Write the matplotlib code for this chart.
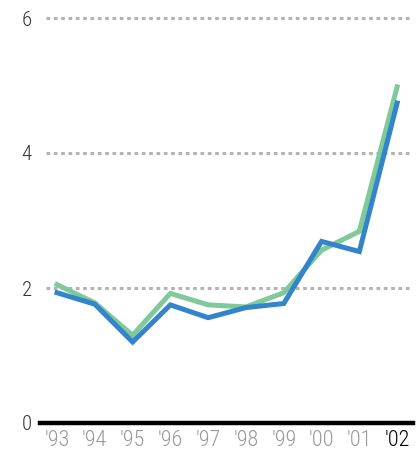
import matplotlib.pyplot as plt

years = ["'93", "'94", "'95", "'96", "'97", "'98", "'99", "'00", "'01", "'02"]
green_vals = [2.05, 1.78, 1.30, 1.92, 1.75, 1.72, 1.93, 2.56, 2.84, 4.98]
blue_vals = [1.93, 1.76, 1.20, 1.75, 1.56, 1.71, 1.77, 2.69, 2.54, 4.74]
y_ticks = [0, 2, 4, 6]

plt.rcParams['font.family'] = ['Roboto Condensed', 'Liberation Sans Narrow', 'Roboto', 'DejaVu Sans']

fig = plt.figure(figsize=(4.18, 4.62), dpi=100)
ax = fig.add_axes([40 / 418, 39 / 462, 373 / 418, 405 / 462])

x = list(range(len(years)))

# dotted gridlines
for t in y_ticks[1:]:
    ax.hlines(t, -0.29, 9.33, colors="#b3b3b3", linestyles=(0, (1.2, 1.2)),
              linewidth=2.2, clip_on=False, zorder=1)

ax.plot(x, green_vals, color="#80c99b", linewidth=3.6, solid_joinstyle="miter", zorder=3)
ax.plot(x, blue_vals, color="#3385cb", linewidth=3.6, solid_joinstyle="miter", zorder=4)

# baseline
ax.axhline(0, color="black", linewidth=3.2, zorder=5, clip_on=False)

ax.set_xlim(-0.45, 9.42)
ax.set_ylim(0, 6)

for s in ax.spines.values():
    s.set_visible(False)

ax.set_yticks(y_ticks)
ax.set_yticklabels([str(t) for t in y_ticks], fontsize=15, color="#333333", fontweight="light")
ax.tick_params(axis="y", length=0, pad=6)

ax.set_xticks(x)
ax.set_xticklabels(years, fontsize=16, fontweight="light")
ax.tick_params(axis="x", length=0, pad=5)
for i, lbl in enumerate(ax.get_xticklabels()):
    lbl.set_color("black" if i == len(years) - 1 else "#999999")

fig.savefig("out.png", dpi=100)
